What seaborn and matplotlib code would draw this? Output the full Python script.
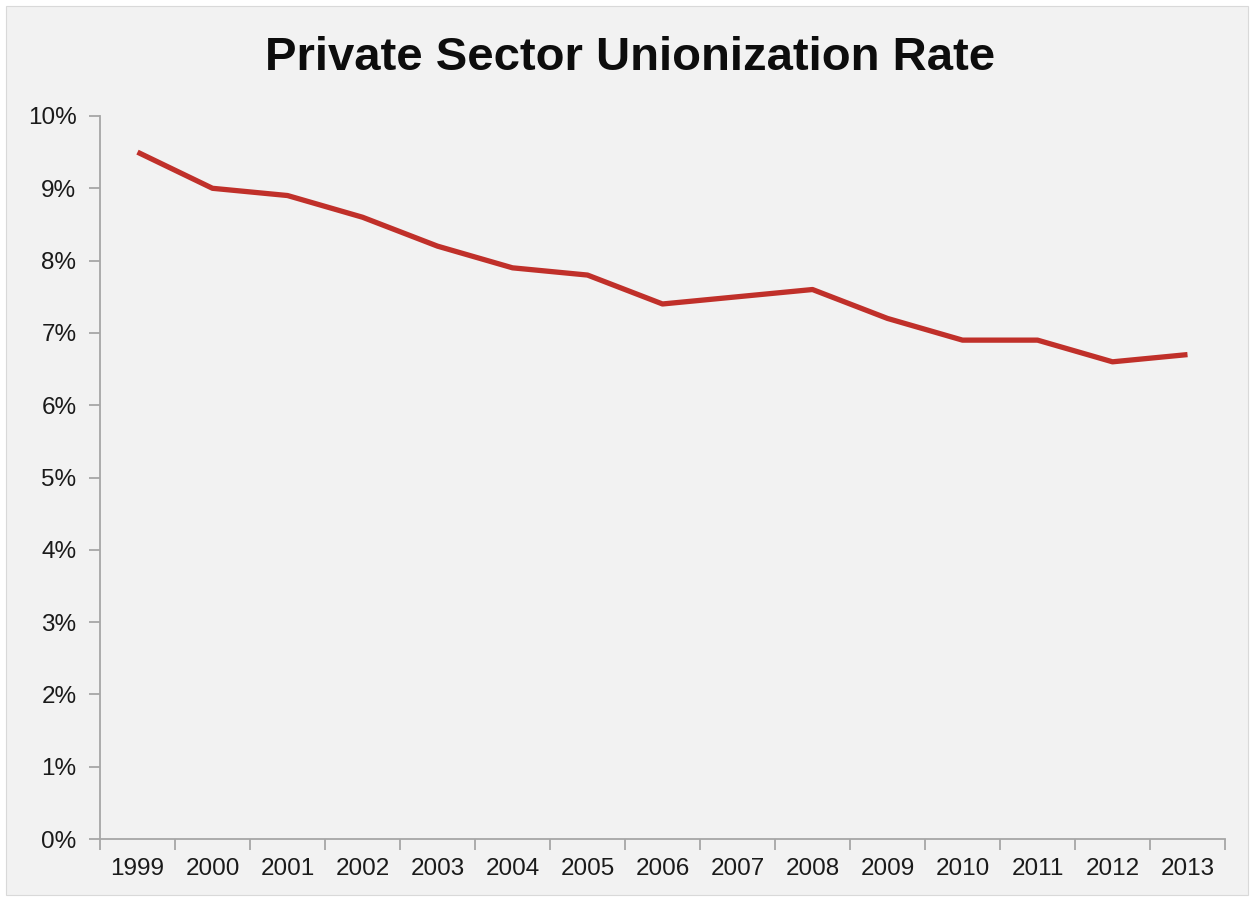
import matplotlib
matplotlib.use("Agg")
import matplotlib.pyplot as plt
import matplotlib.patches as mpatches
from matplotlib.ticker import FixedLocator, FuncFormatter
import seaborn as sns
import pandas as pd

years = ["1999", "2000", "2001", "2002", "2003", "2004", "2005", "2006",
         "2007", "2008", "2009", "2010", "2011", "2012", "2013"]
rates = [9.5, 9.0, 8.9, 8.6, 8.2, 7.9, 7.8, 7.4, 7.5, 7.6, 7.2, 6.9, 6.9, 6.6, 6.7]
y_ticks = [0, 1, 2, 3, 4, 5, 6, 7, 8, 9, 10]
title = "Private Sector Unionization Rate"

df = pd.DataFrame({"year": years, "rate": rates})
df["pos"] = range(len(years))

sns.set_style("white")
plt.rcParams["font.family"] = ["Liberation Sans", "DejaVu Sans"]

bg = "#f2f2f2"
axis_col = "#a6a6a6"
fig = plt.figure(figsize=(12.53, 9.0), dpi=100, facecolor="white")
fig.patches.append(mpatches.Rectangle((6 / 1253, 5 / 900), 1242 / 1253, 889 / 900,
                                      transform=fig.transFigure, facecolor=bg,
                                      edgecolor="#d9d9d9", linewidth=0.8, zorder=-1))
ax = fig.add_axes([100 / 1253, 61 / 900, 1125 / 1253, 723 / 900])
ax.set_facecolor(bg)

sns.lineplot(data=df, x="pos", y="rate", ax=ax, color="#c0302a", linewidth=3.8,
             solid_capstyle="butt")

ax.set_xlim(-0.5, len(years) - 0.5)
ax.set_ylim(0, 10)
ax.set_yticks(y_ticks)
ax.yaxis.set_major_formatter(FuncFormatter(lambda v, p: f"{int(round(v))}%"))
ax.xaxis.set_major_locator(FixedLocator([i - 0.5 for i in range(len(years) + 1)]))
ax.xaxis.set_major_formatter(FuncFormatter(lambda v, p: ""))
ax.xaxis.set_minor_locator(FixedLocator(list(range(len(years)))))
ax.set_xticklabels(years, minor=True)
ax.tick_params(bottom=True, left=True, which="both")
ax.tick_params(axis="x", which="major", length=8, width=1.3, color=axis_col, direction="out")
ax.tick_params(axis="x", which="minor", length=0, pad=14, labelsize=17.5, labelcolor="#1a1a1a")
ax.tick_params(axis="y", which="major", length=8, width=1.3, color=axis_col, direction="out",
               pad=9, labelsize=17.5, labelcolor="#1a1a1a")
for s in ["top", "right"]:
    ax.spines[s].set_visible(False)
for s in ["left", "bottom"]:
    ax.spines[s].set_color(axis_col)
    ax.spines[s].set_linewidth(1.3)
ax.set_xlabel("")
ax.set_ylabel("")
ax.grid(False)

fig.text(630 / 1253, 1 - 58 / 900, title, ha="center", va="center",
         fontsize=34, fontweight="bold", color="#0d0d0d")

fig.savefig("out.png", dpi=100, facecolor="white")
